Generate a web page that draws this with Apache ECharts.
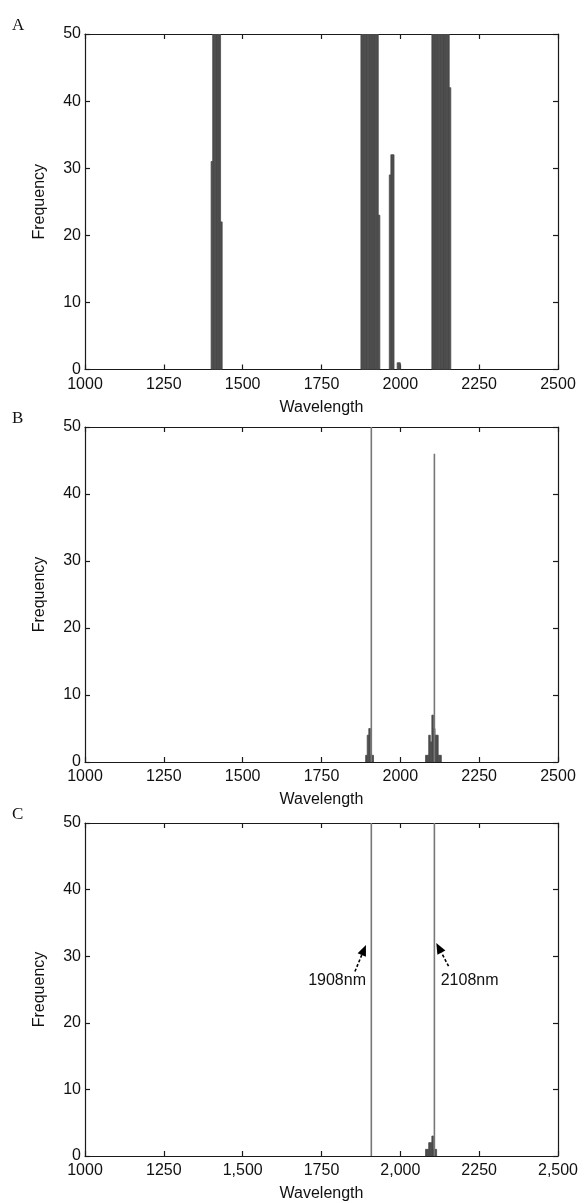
<!DOCTYPE html>
<html><head><meta charset="utf-8">
<script src="https://cdn.jsdelivr.net/npm/echarts@6/dist/echarts.min.js"></script>
<style>html,body{margin:0;padding:0;background:#fff}#c{width:584px;height:1203px}</style>
</head><body><div id="c"></div>
<script>
// ---- data ----
const xTicks = [1000, 1250, 1500, 1750, 2000, 2250, 2500];
const xTickLabelsAB = ['1000', '1250', '1500', '1750', '2000', '2250', '2500'];
const xTickLabelsC = ['1000', '1250', '1,500', '1750', '2,000', '2250', '2,500'];
const yTicks = [0, 10, 20, 30, 40, 50];
const panelLetters = ['A', 'B', 'C'];
const binWidth = 5;

// Panel A histogram (bin left edge, count)
const binsA = [1400, 1405, 1410, 1415, 1420, 1425, 1430,
  1875, 1880, 1885, 1890, 1895, 1900, 1905, 1910, 1915, 1920, 1925, 1930,
  1965, 1970, 1975, 1990, 1995,
  2100, 2105, 2110, 2115, 2120, 2125, 2130, 2135, 2140, 2145, 2150, 2155];
const countsA = [31, 50, 50, 50, 50, 50, 22,
  50, 50, 50, 50, 50, 50, 50, 50, 50, 50, 50, 23,
  29, 32, 32, 1, 1,
  50, 50, 50, 50, 50, 50, 50, 50, 50, 50, 50, 42];

// Panel B histogram
const binsB = [1890, 1895, 1900, 1905, 1910,
  2080, 2085, 2090, 2095, 2100, 2105, 2110, 2115, 2120, 2125];
const countsB = [1, 4, 5, 1, 1,
  1, 1, 4, 3, 7, 5, 4, 4, 1, 1];
const peaksB = [1908, 2108];
const peakCountsB = [50, 46];

// Panel C histogram
const binsC = [2080, 2085, 2090, 2095, 2100, 2105, 2110];
const countsC = [1, 1, 2, 2, 3, 1, 1];
const peaksC = [1908, 2108];
const peakCountsC = [50, 50];

// Panel C annotations: text, arrow tail (x,y), arrow head (x,y), text anchor (x,y)
const annoText = ['1908nm', '2108nm'];
const annoTail = [[1856, 27.7], [2153, 28.5]];
const annoHead = [[1891, 31.7], [2114, 32.0]];
const annoTextPos = [[1891, 27.5], [2128, 27.5]];

// ---- chart ----
const chart = echarts.init(document.getElementById('c'), null, {renderer: 'canvas'});
const FONT = 'Liberation Sans';
const AXIS_COLOR = '#1a1a1a';
const grids = [
  {left: 85, top: 34, width: 473, height: 335.5},
  {left: 85, top: 427, width: 473, height: 335},
  {left: 85, top: 823, width: 473, height: 334}
];
const xAxes = [], yAxes = [];
const tickLabelSets = [xTickLabelsAB, xTickLabelsAB, xTickLabelsC];
const lineStyle = {show: true, onZero: false, lineStyle: {color: AXIS_COLOR, width: 1.2}};
const tickStyle = {show: true, inside: true, length: 5, lineStyle: {color: AXIS_COLOR, width: 1.2}};
grids.forEach((g, i) => {
  const labels = tickLabelSets[i];
  xAxes.push({
    gridIndex: i, type: 'value', min: xTicks[0], max: xTicks[xTicks.length - 1], interval: 250,
    position: 'bottom',
    name: 'Wavelength', nameLocation: 'middle', nameGap: 30,
    nameTextStyle: {fontFamily: FONT, fontSize: 16, color: '#111'},
    axisLine: lineStyle, axisTick: tickStyle,
    axisLabel: {fontFamily: FONT, fontSize: 16, color: '#111', margin: 7,
      formatter: v => { const k = xTicks.indexOf(v); return k >= 0 ? labels[k] : ''; }},
    splitLine: {show: false}
  });
  xAxes.push({
    gridIndex: i, type: 'value', min: xTicks[0], max: xTicks[xTicks.length - 1], interval: 250,
    position: 'top',
    axisLine: lineStyle, axisTick: tickStyle,
    axisLabel: {show: false}, splitLine: {show: false}
  });
  yAxes.push({
    gridIndex: i, type: 'value', min: yTicks[0], max: yTicks[yTicks.length - 1], interval: 10,
    position: 'left',
    name: 'Frequency', nameLocation: 'middle', nameGap: 37, nameRotate: 90,
    nameTextStyle: {fontFamily: FONT, fontSize: 16, color: '#111'},
    axisLine: lineStyle, axisTick: tickStyle,
    axisLabel: {fontFamily: FONT, fontSize: 16, color: '#111', margin: 4},
    splitLine: {show: false}
  });
  yAxes.push({
    gridIndex: i, type: 'value', min: yTicks[0], max: yTicks[yTicks.length - 1], interval: 10,
    position: 'right',
    axisLine: lineStyle, axisTick: tickStyle,
    axisLabel: {show: false}, splitLine: {show: false}
  });
});

function histSeries(i, bins, counts) {
  return {
    type: 'custom', xAxisIndex: i * 2, yAxisIndex: i * 2, clip: true, silent: true,
    data: bins.map((b, k) => [b, binWidth, counts[k]]),
    renderItem: (params, api) => {
      const x0 = api.value(0), w = api.value(1), c = api.value(2);
      const p0 = api.coord([x0, c]);
      const p1 = api.coord([x0 + w, 0]);
      return {type: 'rect', shape: {x: p0[0], y: p0[1], width: p1[0] - p0[0], height: p1[1] - p0[1]},
        style: {fill: '#4b4b4b', stroke: '#4b4b4b', lineWidth: 0.8}};
    },
    z: 2
  };
}
function peakSeries(i, peaks, counts) {
  return {
    type: 'custom', xAxisIndex: i * 2, yAxisIndex: i * 2, clip: true, silent: true,
    data: peaks.map((p, k) => [p, counts[k]]),
    renderItem: (params, api) => {
      const a = api.coord([api.value(0), 0]);
      const b = api.coord([api.value(0), api.value(1)]);
      return {type: 'line', shape: {x1: a[0], y1: a[1], x2: b[0], y2: b[1]},
        style: {stroke: '#777', lineWidth: 1.6}};
    },
    z: 3
  };
}
const annoSeries = {
  type: 'custom', xAxisIndex: 4, yAxisIndex: 4, silent: true,
  data: annoText.map((t, k) => [annoTail[k][0], annoTail[k][1], annoHead[k][0], annoHead[k][1], annoTextPos[k][0], annoTextPos[k][1], k]),
  renderItem: (params, api) => {
    const t = api.coord([api.value(0), api.value(1)]);
    const h = api.coord([api.value(2), api.value(3)]);
    const tp = api.coord([api.value(4), api.value(5)]);
    const k = api.value(6);
    const dx = h[0] - t[0], dy = h[1] - t[1];
    const len = Math.sqrt(dx * dx + dy * dy);
    const ux = dx / len, uy = dy / len;
    const hl = 11, hw = 4.5;
    const bx = h[0] - ux * hl, by = h[1] - uy * hl;
    return {type: 'group', children: [
      {type: 'line', shape: {x1: t[0], y1: t[1], x2: bx, y2: by},
        style: {stroke: '#000', lineWidth: 1.6, lineDash: [3, 2]}},
      {type: 'polygon', shape: {points: [[h[0], h[1]], [bx - uy * hw, by + ux * hw], [bx + uy * hw, by - ux * hw]]},
        style: {fill: '#000'}},
      {type: 'text', x: tp[0], y: tp[1],
        style: {text: annoText[k], fill: '#111', font: '16px "Liberation Sans"',
          align: k === 0 ? 'right' : 'left', verticalAlign: 'top'}}
    ]};
  },
  z: 5
};

const option = {
  animation: false,
  backgroundColor: '#fff',
  title: panelLetters.map((L, i) => ({
    text: L, left: 12, top: grids[i].top - 17, padding: 0,
    textStyle: {fontFamily: 'Liberation Serif', fontSize: 17, fontWeight: 'normal', color: '#111'}
  })),
  grid: grids,
  xAxis: xAxes,
  yAxis: yAxes,
  series: [
    histSeries(0, binsA, countsA),
    histSeries(1, binsB, countsB),
    peakSeries(1, peaksB, peakCountsB),
    histSeries(2, binsC, countsC),
    peakSeries(2, peaksC, peakCountsC),
    annoSeries
  ]
};
chart.setOption(option);
</script>
</body></html>
